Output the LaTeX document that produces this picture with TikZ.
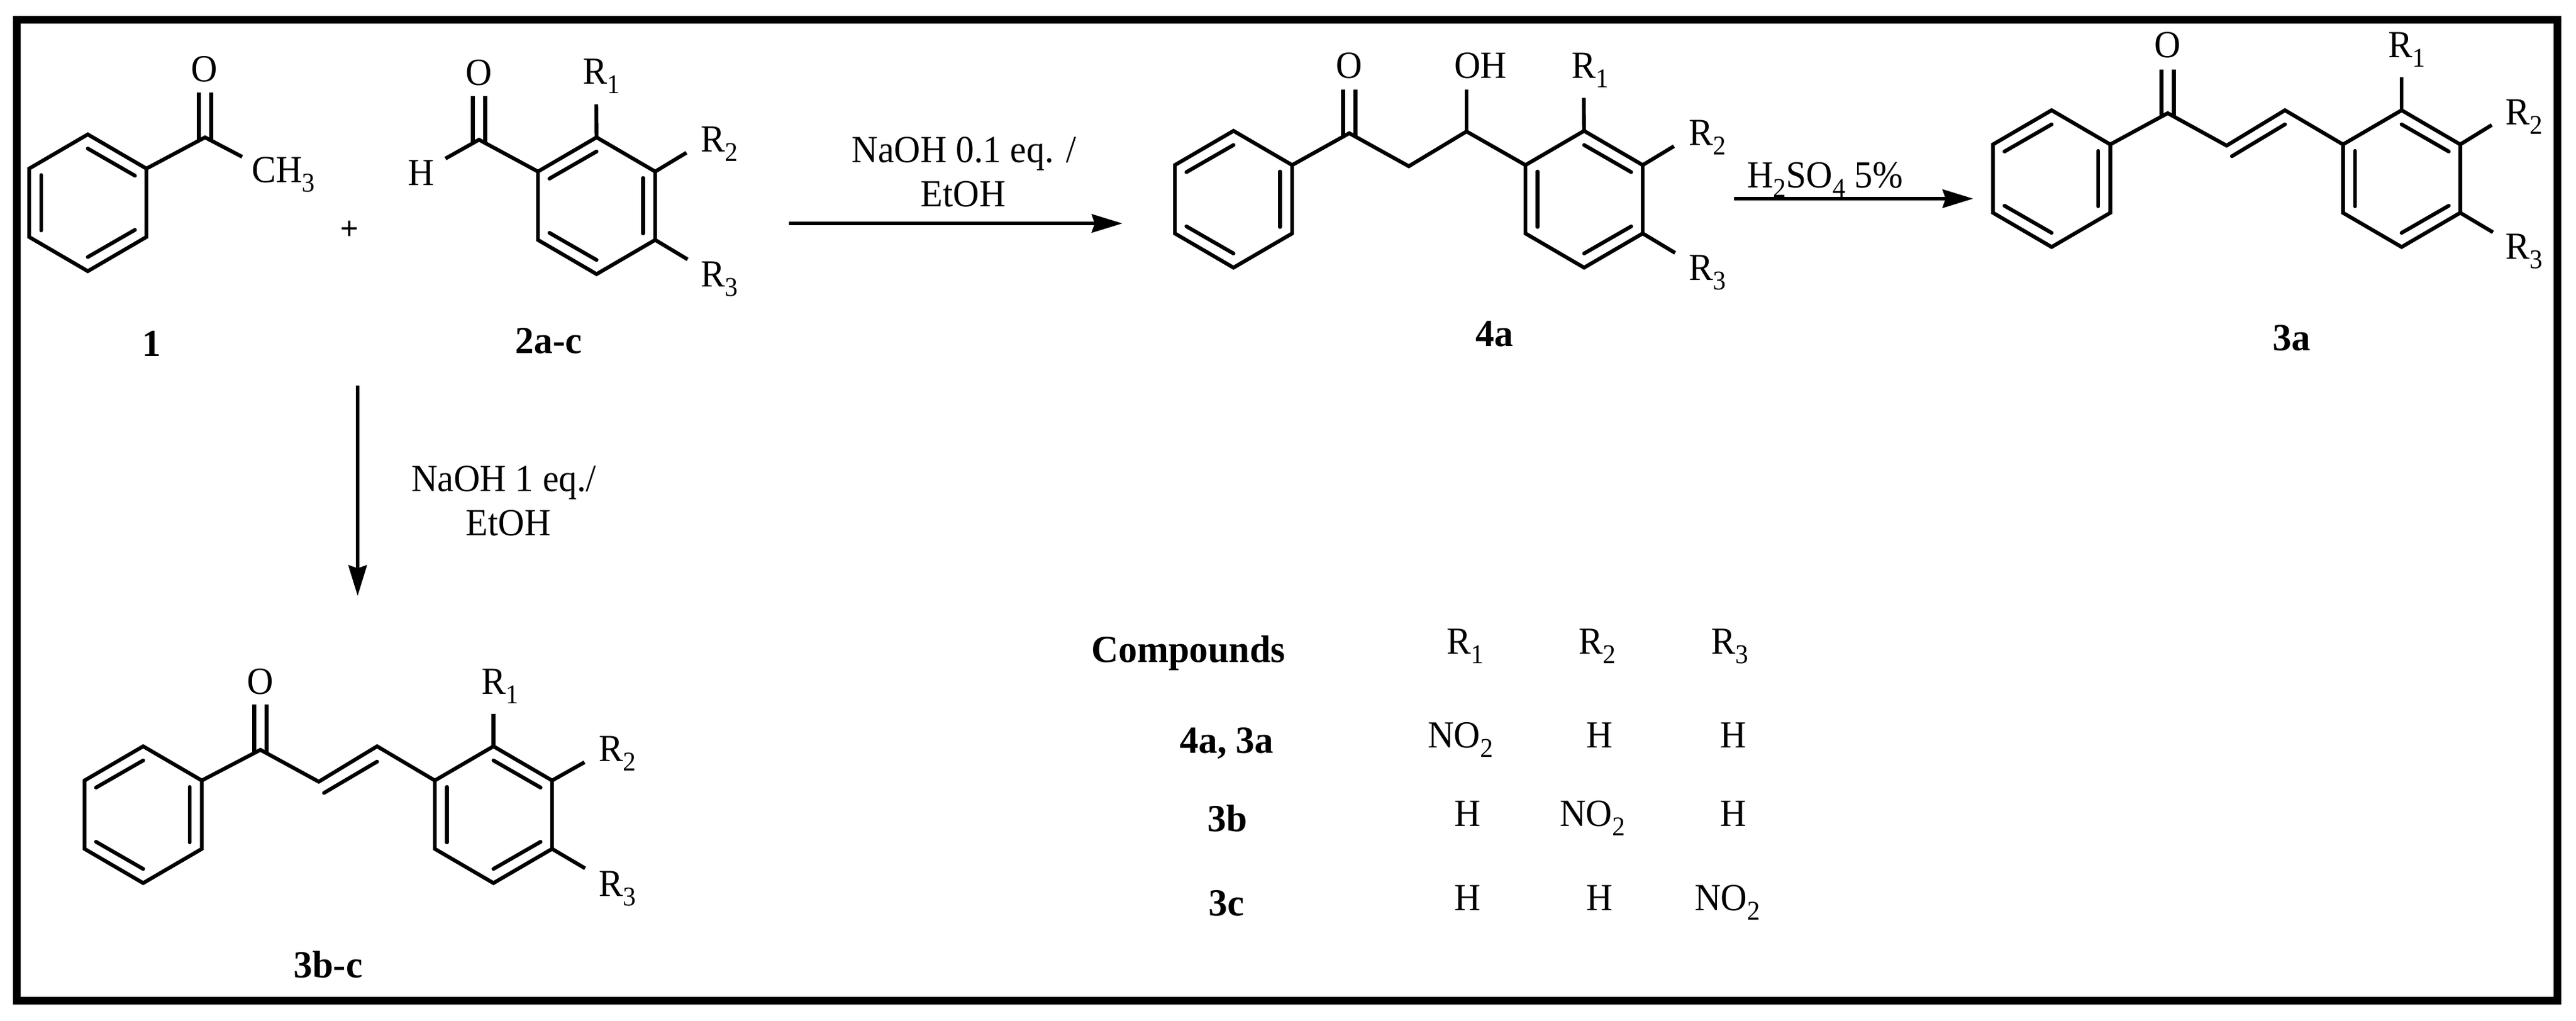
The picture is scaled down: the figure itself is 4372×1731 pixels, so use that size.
\documentclass[tikz,border=0pt]{standalone}
\usepackage{fontspec}
\setmainfont[FakeStretch=0.95,BoldFeatures={FakeStretch=0.98}]{Liberation Serif}
\usetikzlibrary{arrows.meta}
\newcommand\lowsub[1]{\raisebox{-8pt}{\fontsize{23}{23}\selectfont #1}}
\newcommand\rgrp[1]{R\lowsub{#1}}
\tikzset{
  x=0.5pt,y=-0.5pt,
  bond/.style={line width=3.2pt,line cap=butt,line join=miter},
  inner/.style={line width=3.2pt,line cap=round},
  rxn/.style={line width=3.2pt,-{Stealth[length=26pt,width=15.5pt,inset=2.5pt]}},
  chem/.style={inner sep=0pt,outer sep=0pt,font=\fontsize{32.5}{36}\selectfont},
  lab/.style={chem,font=\fontsize{32.5}{36}\selectfont\bfseries},
  ringA/.pic={
    \coordinate (-t) at (0,-116); \coordinate (-ur) at (99.5,-58);
    \coordinate (-lr) at (99.5,58); \coordinate (-b) at (0,116);
    \coordinate (-ll) at (-99.5,58); \coordinate (-ul) at (-99.5,-58);
    \draw[bond] (-t) -- (-ur) -- (-lr) -- (-b) -- (-ll) -- (-ul) -- cycle;
    \draw[inner] (0,-92) -- (80,-46);
    \draw[inner] (-79,-47) -- (-79,47);
    \draw[inner] (80,46) -- (0,92);
  },
  ringB/.pic={
    \coordinate (-t) at (0,-116); \coordinate (-ur) at (99.5,-58);
    \coordinate (-lr) at (99.5,58); \coordinate (-b) at (0,116);
    \coordinate (-ll) at (-99.5,58); \coordinate (-ul) at (-99.5,-58);
    \draw[bond] (-t) -- (-ur) -- (-lr) -- (-b) -- (-ll) -- (-ul) -- cycle;
    \draw[inner] (0,-92) -- (-80,-46);
    \draw[inner] (79,-47) -- (79,47);
    \draw[inner] (-80,46) -- (0,92);
  }
}
% double bond C=O: carbon coordinate, end coordinate
\newcommand\cdbl[2]{%
  \draw[bond] ([shift={(-5.25pt,-2pt)}]#1) -- ([xshift=-5.25pt]#2);
  \draw[bond] ([shift={(5.25pt,-2pt)}]#1) -- ([xshift=5.25pt]#2);}
\begin{document}
\begin{tikzpicture}
\useasboundingbox (0,0) rectangle (4372,1731);
\fill[white] (0,0) rectangle (4372,1731);
\draw[line width=6.5pt,line join=miter] (28,33) rectangle (4340,1697);

% ---------- compound 1
\pic (ra) at (149,344) {ringA};
\coordinate (ca) at (348,233);
\coordinate (cae) at (348,157);
\coordinate (mee) at (411,266);
\draw[bond] (ra-ur) -- (ca) -- (mee);
\cdbl{ca}{cae}
\node[chem,anchor=base] (oa) at (347,138) {O};
\node[chem,anchor=base west] (me) at (427,309) {CH\lowsub{3}};
\node[lab,anchor=base] (l1) at (257,604) {1};
\node[chem,anchor=center,font=\fontsize{28}{30}\selectfont\bfseries] (plus) at (593,391) {+};

% ---------- compound 2a-c
\pic (rb) at (1012.5,349) {ringB};
\coordinate (cb) at (813,237);
\coordinate (cbe) at (813,163);
\coordinate (hbe) at (756,269);
\draw[bond] (rb-ul) -- (cb) -- (hbe);
\cdbl{cb}{cbe}
\node[chem,anchor=base] (ob) at (813,144) {O};
\node[chem,anchor=base west] (hb) at (692,314) {H};
\coordinate (r1be) at (1012,177);
\coordinate (r2be) at (1165,259);
\coordinate (r3be) at (1167,440);
\draw[bond] (rb-t) -- (r1be);
\draw[bond] (rb-ur) -- (r2be);
\draw[bond] (rb-lr) -- (r3be);
\node[chem,anchor=base west] (r1b) at (989,142) {\rgrp{1}};
\node[chem,anchor=base west] (r2b) at (1189,257) {\rgrp{2}};
\node[chem,anchor=base west] (r3b) at (1189,486) {\rgrp{3}};
\node[lab,anchor=base] (l2) at (931,599) {2a-c};

% ---------- arrow 1
\coordinate (a1s) at (1339,379);
\coordinate (a1e) at (1905,379);
\draw[rxn] (a1s) -- (a1e);
\node[chem,anchor=base] (t1a) at (1636,275) {NaOH 0.1 eq. /};
\node[chem,anchor=base] (t1b) at (1635,350) {EtOH};

% ---------- compound 4a
\pic (rc) at (2093.5,338) {ringB};
\pic (rd) at (2688.5,338) {ringA};
\coordinate (cc) at (2290,226);
\coordinate (cce) at (2290,152);
\coordinate (ch2) at (2391,282);
\coordinate (choh) at (2489,223);
\coordinate (ohe) at (2489,152);
\draw[bond] (rc-ur) -- (cc) -- (ch2) -- (choh) -- (rd-ul);
\draw[bond] (choh) -- (ohe);
\cdbl{cc}{cce}
\node[chem,anchor=base] (oc) at (2290,132) {O};
\node[chem,anchor=base west] (oh) at (2468,132) {OH};
\coordinate (r1de) at (2688,166);
\coordinate (r2de) at (2841,248);
\coordinate (r3de) at (2843,429);
\draw[bond] (rd-t) -- (r1de);
\draw[bond] (rd-ur) -- (r2de);
\draw[bond] (rd-lr) -- (r3de);
\node[chem,anchor=base west] (r1d) at (2667,132) {\rgrp{1}};
\node[chem,anchor=base west] (r2d) at (2866,246) {\rgrp{2}};
\node[chem,anchor=base west] (r3d) at (2866,475) {\rgrp{3}};
\node[lab,anchor=base] (l4a) at (2536,587) {4a};

% ---------- arrow 2
\coordinate (a2s) at (2943,337);
\coordinate (a2e) at (3349,337);
\draw[rxn] (a2s) -- (a2e);
\node[chem,anchor=base west] (t2) at (2965,318) {H\lowsub{2}SO\lowsub{4} 5\%};

% ---------- compound 3a
\pic (re) at (3482,303) {ringB};
\pic (rf) at (4076,303) {ringA};
\coordinate (ce) at (3679,192);
\coordinate (cee) at (3679,118);
\coordinate (ce1) at (3779,247);
\coordinate (ce2) at (3878,187);
\coordinate (ei1) at (3788,265);
\coordinate (ei2) at (3878,211);
\draw[bond] (re-ur) -- (ce) -- (ce1) -- (ce2) -- (rf-ul);
\draw[inner] (ei1) -- (ei2);
\cdbl{ce}{cee}
\node[chem,anchor=base] (oe) at (3679,97) {O};
\coordinate (r1fe) at (4076,131);
\coordinate (r2fe) at (4229,212);
\coordinate (r3fe) at (4231,394);
\draw[bond] (rf-t) -- (r1fe);
\draw[bond] (rf-ur) -- (r2fe);
\draw[bond] (rf-lr) -- (r3fe);
\node[chem,anchor=base west] (r1f) at (4053,97) {\rgrp{1}};
\node[chem,anchor=base west] (r2f) at (4252,211) {\rgrp{2}};
\node[chem,anchor=base west] (r3f) at (4252,439) {\rgrp{3}};
\node[lab,anchor=base] (l3a) at (3889,594) {3a};

% ---------- arrow 3
\coordinate (a3s) at (607,654);
\coordinate (a3e) at (607,1011);
\draw[rxn] (a3s) -- (a3e);
\node[chem,anchor=base] (t3a) at (855,833) {NaOH 1 eq./};
\node[chem,anchor=base] (t3b) at (863,908) {EtOH};

% ---------- compound 3b-c
\pic (rg) at (243,1382) {ringB};
\pic (rh) at (837.5,1382) {ringA};
\coordinate (cg) at (442,1272);
\coordinate (cge) at (442,1195);
\coordinate (cg1) at (541,1326);
\coordinate (cg2) at (640,1266);
\coordinate (gi1) at (550,1345);
\coordinate (gi2) at (640,1292);
\draw[bond] (rg-ur) -- (cg) -- (cg1) -- (cg2) -- (rh-ul);
\draw[inner] (gi1) -- (gi2);
\cdbl{cg}{cge}
\node[chem,anchor=base] (og) at (442,1177) {O};
\coordinate (r1he) at (837.5,1211);
\coordinate (r2he) at (992,1293);
\coordinate (r3he) at (993,1473);
\draw[bond] (rh-t) -- (r1he);
\draw[bond] (rh-ur) -- (r2he);
\draw[bond] (rh-lr) -- (r3he);
\node[chem,anchor=base west] (r1h) at (817,1177) {\rgrp{1}};
\node[chem,anchor=base west] (r2h) at (1016,1291) {\rgrp{2}};
\node[chem,anchor=base west] (r3h) at (1016,1520) {\rgrp{3}};
\node[lab,anchor=base] (l3b) at (557,1658) {3b-c};

% ---------- table
\node[lab,anchor=base] (tc) at (2017,1123) {Compounds};
\node[chem,anchor=base west] (th1) at (2455,1109) {\rgrp{1}};
\node[chem,anchor=base west] (th2) at (2679,1109) {\rgrp{2}};
\node[chem,anchor=base west] (th3) at (2904,1109) {\rgrp{3}};
\node[lab,anchor=base] (c1) at (2082,1277) {4a, 3a};
\node[chem,anchor=base west] (v11) at (2423,1268) {NO\lowsub{2}};
\node[chem,anchor=base] (v12) at (2715,1268) {H};
\node[chem,anchor=base] (v13) at (2942,1268) {H};
\node[lab,anchor=base] (c2) at (2083,1410) {3b};
\node[chem,anchor=base] (v21) at (2491,1401) {H};
\node[chem,anchor=base west] (v22) at (2647,1401) {NO\lowsub{2}};
\node[chem,anchor=base] (v23) at (2942,1401) {H};
\node[lab,anchor=base] (c3) at (2082,1553) {3c};
\node[chem,anchor=base] (v31) at (2491,1544) {H};
\node[chem,anchor=base] (v32) at (2715,1544) {H};
\node[chem,anchor=base west] (v33) at (2876,1544) {NO\lowsub{2}};
\end{tikzpicture}
\end{document}
